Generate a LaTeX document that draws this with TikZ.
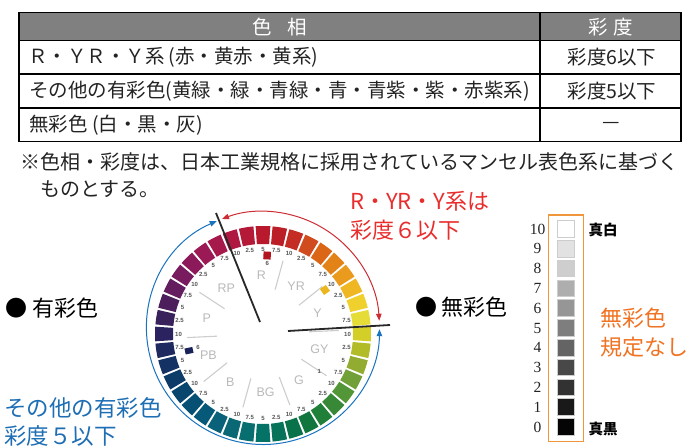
\documentclass[tikz,border=0pt]{standalone}
\usepackage{fontspec}
\setmainfont{Noto Sans CJK JP}
\newfontfamily\latinsans{Liberation Sans}
\newfontfamily\numserif{Liberation Serif}
\usetikzlibrary{arrows.meta,calc}
\definecolor{hdrgray}{RGB}{128,128,128}
\definecolor{txtdark}{RGB}{35,35,35}
\definecolor{notered}{RGB}{232,45,45}
\definecolor{arcred}{RGB}{205,45,50}
\definecolor{noteblue}{RGB}{30,110,180}
\definecolor{arcblue}{RGB}{25,115,190}
\definecolor{noteorange}{RGB}{240,115,35}
\definecolor{boxorange}{RGB}{240,150,60}
\definecolor{hueletter}{RGB}{185,185,185}
\definecolor{hueline}{RGB}{205,205,205}
\definecolor{steplabel}{RGB}{85,85,85}
\definecolor{swborder}{RGB}{205,205,205}
\begin{document}
\begin{tikzpicture}[x=1pt,y=-1pt,
  tabtxt/.style={font=\fontsize{19.5}{22}\selectfont, inner sep=0pt, text=txtdark},
  notetxt/.style={font=\fontsize{20}{24}\selectfont, inner sep=0pt, text=txtdark, anchor=west},
  bigtxt/.style={font=\fontsize{22}{26}\selectfont, inner sep=0pt, anchor=west},
  ringlab/.style={font=\latinsans\bfseries\fontsize{6}{7}\selectfont, inner sep=0pt, text=steplabel},
  huelab/.style={font=\latinsans\fontsize{12.5}{14}\selectfont, inner sep=0pt, text=hueletter},
  greynum/.style={font=\numserif\fontsize{15.5}{17}\selectfont, inner sep=0pt, text=txtdark},
  greyname/.style={font=\bfseries\fontsize{14.5}{16}\selectfont, inner sep=0pt, text=black},
  divider/.style={line width=1.8pt, draw={rgb,255:red,40;green,40;blue,40}}
]
\useasboundingbox (0,0) rectangle (687,446);

% ---------- table ----------
\fill[hdrgray] (19,12.7) rectangle (681,40.7);
\draw[line width=1.3pt, black] (19,12.7) rectangle (681,141.7);
\draw[line width=1.1pt, black] (19,40.7) -- (681,40.7) (19,74) -- (681,74) (19,108) -- (681,108) (540,12.7) -- (540,141.7);

\node[tabtxt, text=white] (hhue) at (279.5,26.7) {色\hspace{0.8em}相};
\node[tabtxt, text=white] (hchroma) at (610.5,26.7) {彩\hspace{0.3em}度};
\node[tabtxt, anchor=west] (row1) at (28,57.3) {Ｒ・ＹＲ・Ｙ系\hspace{0.2em}(赤・黄赤・黄系)};
\node[tabtxt, anchor=west] (row2) at (29,91.3) {その他の有彩色(黄緑・緑・青緑・青・青紫・紫・赤紫系)};
\node[tabtxt, anchor=west] (row3) at (29,125) {無彩色 (白・黒・灰)};
\node[tabtxt] (val1) at (612,57.3) {彩度6以下};
\node[tabtxt] (val2) at (612,91.3) {彩度5以下};
\node[tabtxt] (val3) at (611,125) {—};

% ---------- note ----------
\node[notetxt] (note1) at (20,161.7) {※色相・彩度は、日本工業規格に採用されているマンセル表色系に基づく};
\node[notetxt] (note2) at (40,189) {ものとする。};

% ---------- side captions ----------
\node[bigtxt, text=notered] (ryr1) at (350,201.7) {R・YR・Y系は};
\node[bigtxt, text=notered] (ryr2) at (350,230) {彩度６以下};
\node[bigtxt, text=noteblue, font=\fontsize{22.5}{26}\selectfont] (oth1) at (4,408) {その他の有彩色};
\node[bigtxt, text=noteblue, font=\fontsize{22.5}{26}\selectfont] (oth2) at (4,435.5) {彩度５以下};
\node[bigtxt, text=black] (chromatic) at (5,308) {●\hspace{0.25em}有彩色};
\node[bigtxt, text=black] (achromatic) at (415,307) {●\hspace{0.2em}無彩色};
\node[bigtxt, text=noteorange] (ach1) at (600,318) {無彩色};
\node[bigtxt, text=noteorange] (ach2) at (600,346.7) {規定なし};

% ---------- hue circle ----------
\begin{scope}[shift={(263,334)}]
\begin{scope}[y=1pt]
  % forty hue swatches, 5R at the top, running clockwise
  \foreach \i/\lab/\cr/\cg/\cb in {
     0/5/185/25/45, 1/7.5/188/30/40, 2/10/195/45/35, 3/2.5/208/75/30,
     4/5/218/102/22, 5/7.5/227/130/22, 6/10/234/155/30, 7/2.5/239/183/35,
     8/5/240/208/45, 9/7.5/230/220/55, 10/10/212/206/40, 11/2.5/178/188/40,
     12/5/145/172/48, 13/7.5/112/160/55, 14/10/82/150/55, 15/2.5/55/137/55,
     16/5/32/127/57, 17/7.5/17/117/62, 18/10/10/114/75, 19/2.5/6/114/90,
     20/5/5/114/104, 21/7.5/8/110/112, 22/10/10/104/117, 23/2.5/9/98/121,
     24/5/6/89/120, 25/7.5/6/80/115, 26/10/8/70/110, 27/2.5/14/60/105,
     28/5/20/50/100, 29/7.5/30/41/95, 30/10/42/35/95, 31/2.5/57/34/92,
     32/5/76/30/92, 33/7.5/100/30/95, 34/10/120/28/95, 35/2.5/140/25/90,
     36/5/155/25/85, 37/7.5/166/25/75, 38/10/175/25/65, 39/2.5/180/25/55}
  {
    \pgfmathsetmacro\a{90-9*\i}
    \pgfmathsetmacro\al{\a-3.9}
    \pgfmathsetmacro\ah{\a+3.9}
    \definecolor{swatch}{RGB}{\cr,\cg,\cb}
    \fill[swatch] (\al:90) arc[start angle=\al, end angle=\ah, radius=90]
      -- (\ah:108) arc[start angle=\ah, end angle=\al, radius=108] -- cycle;
    \node[ringlab] (step\i) at (\a:84.5) {\lab};
  }
  % borders between hue families
  \foreach \b in {74.7,38.7,2.7,-33.3,-69.3,-105.3,-141.3,182.7,146.7,110.7}
    \draw[hueline, line width=1.1pt] (\b:46) -- (\b:76);
  % hue family letters
  \foreach \h/\t in {91.5/R,55.5/YR,21/Y,-15.5/GY,-52/G,-87.5/BG,-124/B,-159/PB,164/P,129/RP}
    \node[huelab] (hue\t) at (\h:58.5) {\t};
  % chroma markers
  \fill[fill={rgb,255:red,180;green,20;blue,30}, rotate around={-3:(87:78.6)}] ($(87:78.6)+(-3.7,-3.9)$) rectangle ($(87:78.6)+(3.7,3.9)$);
  \node[ringlab] (r6) at (86.5:70.5) {6};
  \fill[fill={rgb,255:red,236;green,182;blue,30}, rotate around={35:(35.4:76)}] ($(35.4:76)+(-3.6,-3.6)$) rectangle ($(35.4:76)+(3.6,3.6)$);
  \node[ringlab] (y1) at (56.3,-37) {1};
  \fill[fill={rgb,255:red,25;green,35;blue,90}, rotate around={12:(-74,-16.7)}] (-78,-19.7) rectangle (-70,-13.7);
  \node[ringlab] (pb6) at (-65,-13.3) {6};
\end{scope}
\end{scope}

% range arcs with arrows
\begin{scope}[shift={(263,328)}]
\begin{scope}[y=1pt]
  \draw[arcred, line width=1pt, {Triangle[length=7pt,width=5.5pt]}-{Triangle[length=7pt,width=5.5pt]}]
    (3.6:116.5) arc[start angle=3.6, end angle=110.6, radius=116.5];
  \draw[arcblue, line width=1pt, {Triangle[length=7pt,width=5.5pt]}-{Triangle[length=7pt,width=5.5pt]}]
    (113.4:116.5) arc[start angle=113.4, end angle=359.4, radius=116.5];
\end{scope}
\end{scope}

% dividing lines of the two hue groups
\coordinate (c1a) at (260,322);
\coordinate (c1b) at (216,213);
\coordinate (c2a) at (288,331);
\coordinate (c2b) at (390,325);
\draw[divider] (c1a) -- (c1b);
\draw[divider] (c2a) -- (c2b);

% ---------- grey scale ----------
\draw[boxorange, line width=1.4pt] (548.3,215) rectangle (583.3,441.7);
\foreach \k/\g in {10/255,9/226,8/206,7/174,6/150,5/126,4/100,3/72,2/50,1/25,0/5}
{
  \pgfmathsetmacro\yy{229+(10-\k)*19.8}
  \definecolor{greycell}{RGB}{\g,\g,\g}
  \filldraw[fill=greycell, draw=swborder, line width=0.9pt] (557,\yy-8.3) rectangle (574,\yy+8.3);
  \node[greynum] (v\k) at (537.5,\yy) {\k};
}
\node[greyname] (white) at (603,230) {真白};
\node[greyname] (black) at (603,429) {真黒};

\end{tikzpicture}
\end{document}
